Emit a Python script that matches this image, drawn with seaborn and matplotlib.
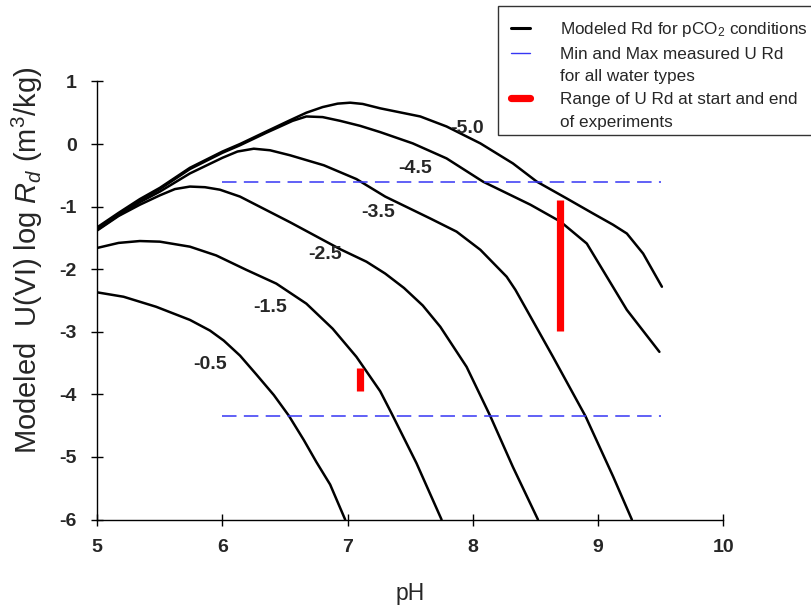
import numpy as np
import pandas as pd
import matplotlib
matplotlib.use("Agg")
import matplotlib.pyplot as plt
import seaborn as sns
from matplotlib.lines import Line2D
from matplotlib.legend_handler import HandlerLine2D
from matplotlib import font_manager as fm

# ---------------- data ----------------
pco2_levels = ["-5.0", "-4.5", "-3.5", "-2.5", "-1.5", "-0.5"]

ph_m50 = [5.0, 5.17, 5.34, 5.5, 5.74, 6.0, 6.14, 6.35, 6.54, 6.67, 6.8, 6.92, 7.02, 7.12, 7.26, 7.58, 7.79,
          8.06, 8.32, 8.51, 8.75, 8.96, 9.12, 9.23, 9.36, 9.51]
rd_m50 = [-1.33, -1.10, -0.88, -0.70, -0.38, -0.12, 0.0, 0.20, 0.38, 0.50, 0.59, 0.645, 0.66, 0.64, 0.57, 0.44, 0.28,
          0.01, -0.31, -0.60, -0.87, -1.11, -1.29, -1.43, -1.75, -2.28]

ph_m45 = [5.0, 5.17, 5.34, 5.5, 5.74, 6.0, 6.14, 6.35, 6.45, 6.56, 6.67, 6.8, 6.94, 7.1, 7.26, 7.52, 7.79,
          8.08, 8.46, 8.70, 8.91, 9.07, 9.23, 9.49]
rd_m45 = [-1.35, -1.12, -0.90, -0.72, -0.40, -0.14, -0.02, 0.18, 0.27, 0.37, 0.44, 0.43, 0.37, 0.29, 0.19, 0.01, -0.23,
          -0.60, -0.97, -1.24, -1.59, -2.12, -2.65, -3.32]

ph_m35 = [5.0, 5.17, 5.34, 5.5, 5.74, 6.0, 6.12, 6.25, 6.38, 6.54, 6.81, 7.07, 7.3, 7.66, 7.87, 8.06, 8.27, 8.34,
          8.43, 8.64, 8.90, 9.12, 9.27]
rd_m35 = [-1.37, -1.14, -0.93, -0.76, -0.47, -0.22, -0.12, -0.075, -0.10, -0.18, -0.34, -0.56, -0.84, -1.19, -1.40, -1.69, -2.12, -2.33,
          -2.65, -3.40, -4.35, -5.31, -6.0]

ph_m25 = [5.0, 5.17, 5.34, 5.5, 5.62, 5.74, 5.86, 5.98, 6.14, 6.54, 6.94, 7.15, 7.3, 7.45, 7.6, 7.74, 7.95, 8.14,
          8.32, 8.52]
rd_m25 = [-1.38, -1.15, -0.97, -0.82, -0.72, -0.68, -0.69, -0.73, -0.84, -1.25, -1.68, -1.88, -2.07, -2.30, -2.58, -2.92, -3.56, -4.35,
          -5.16, -6.0]

ph_m15 = [5.0, 5.17, 5.34, 5.5, 5.74, 5.95, 6.19, 6.43, 6.67, 6.88, 7.07, 7.26, 7.35, 7.55, 7.75]
rd_m15 = [-1.66, -1.58, -1.55, -1.56, -1.64, -1.78, -2.01, -2.23, -2.55, -2.95, -3.40, -3.95, -4.30, -5.10, -6.0]

ph_m05 = [5.0, 5.21, 5.47, 5.74, 5.9, 6.01, 6.14, 6.27, 6.41, 6.53, 6.65, 6.75, 6.86, 6.98]
rd_m05 = [-2.37, -2.44, -2.60, -2.81, -2.98, -3.14, -3.38, -3.68, -4.01, -4.34, -4.73, -5.08, -5.44, -6.0]

# measured min / max U Rd (blue dashed)
meas_ph = [6.0, 9.5]
meas_max = [-0.60, -0.60]
meas_min = [-4.34, -4.34]

# range of U Rd at start and end of experiments (red bars)
exp_ph = [8.70, 7.10]
exp_top = [-0.90, -3.58]
exp_bot = [-2.98, -3.95]

# curve labels
label_ph = [7.95, 7.54, 7.24, 6.82, 6.38, 5.90]
label_rd = [0.25, -0.39, -1.10, -1.77, -2.61, -3.52]

# ---------------- build frame ----------------
curves = [(ph_m50, rd_m50), (ph_m45, rd_m45), (ph_m35, rd_m35),
          (ph_m25, rd_m25), (ph_m15, rd_m15), (ph_m05, rd_m05)]
rows = []
for lev, (xs, ys) in zip(pco2_levels, curves):
    for x, y in zip(xs, ys):
        rows.append({"pH": x, "logRd": y, "pCO2": lev})
df = pd.DataFrame(rows)

# ---------------- style ----------------
sns.set_theme(style="ticks")
plt.rcParams["font.family"] = ["Liberation Sans", "DejaVu Sans"]
plt.rcParams["axes.unicode_minus"] = False
plt.rcParams["mathtext.fontset"] = "custom"
plt.rcParams["mathtext.rm"] = "Liberation Sans"
plt.rcParams["mathtext.it"] = "Liberation Sans:italic"
plt.rcParams["mathtext.bf"] = "Liberation Sans:bold"

bold_family = "Liberation Sans"
try:
    p = fm.findfont(fm.FontProperties(family="Liberation Sans", weight="bold"), fallback_to_default=False)
    if "bold" not in p.lower():
        bold_family = "DejaVu Sans"
except Exception:
    bold_family = "DejaVu Sans"

def bold_fp(size):
    return fm.FontProperties(family=[bold_family, "DejaVu Sans"], weight="bold", size=size)

fig = plt.figure(figsize=(8.12, 6.08), dpi=100)
ax = fig.add_axes([0.1198, 0.1454, 0.7709, 0.7207])

sns.lineplot(data=df, x="pH", y="logRd", hue="pCO2", palette=["black"] * 6,
             sort=False, estimator=None, legend=False, linewidth=1.8, ax=ax)
for ln in ax.lines:
    ln.set_solid_joinstyle("round")

blue = "#3636f4"
for yy in (meas_max, meas_min):
    sns.lineplot(x=meas_ph, y=yy, color=blue, linewidth=1.1, ax=ax)
    ax.lines[-1].set_dashes((9.5, 4.8))

ax.vlines(exp_ph, exp_bot, exp_top, color="#ff0000", linewidth=5.2)

for lab, x, y in zip(pco2_levels, label_ph, label_rd):
    ax.text(x, y, lab, ha="center", va="center", fontproperties=bold_fp(14))

xticks = [5, 6, 7, 8, 9, 10]
yticks = [-6, -5, -4, -3, -2, -1, 0, 1]
ax.set_xlim(5, 10)
ax.set_ylim(-6, 1)
ax.set_xticks(xticks)
ax.set_yticks(yticks)
ax.set_xticklabels([str(v) for v in xticks], fontproperties=bold_fp(14))
ax.set_yticklabels([str(v) for v in yticks], fontproperties=bold_fp(14))
ax.tick_params(direction="inout", length=8.6, width=1.0, color="black")
ax.tick_params(axis="x", pad=9.5)
ax.tick_params(axis="y", pad=10.5)
sns.despine(ax=ax)
for s in ("left", "bottom"):
    ax.spines[s].set_linewidth(1.0)
    ax.spines[s].set_color("black")

ax.set_xlabel("pH", fontsize=16.5)
ax.set_ylabel(r"Modeled  U(VI) log $R_d$ (m$^3$/kg)", fontsize=21)
ax.xaxis.set_label_coords(0.50, -0.142)
ax.yaxis.set_label_coords(-0.083, 0.592)

handles = [
    Line2D([], [], color="black", linewidth=2.2),
    Line2D([], [], color=blue, linewidth=1.0),
    Line2D([], [], color="none"),
    Line2D([], [], color="#ff0000", linewidth=5.2),
    Line2D([], [], color="none"),
]
labels = [
    r"Modeled Rd for pCO$_2$ conditions",
    "Min and Max measured U Rd",
    "for all water types",
    "Range of U Rd at start and end",
    "of experiments",
]
leg = fig.legend(handles, labels, loc="upper left", bbox_to_anchor=(0.613, 0.9906),
                 borderaxespad=0, fontsize=12.3, frameon=True, fancybox=False,
                 edgecolor="black", handlelength=1.58, handletextpad=1.75,
                 labelspacing=0.46, borderpad=0.3,
                 title=" ", title_fontsize=0.5,
                 handler_map={Line2D: HandlerLine2D(xpad=0.47)})
leg.get_frame().set_linewidth(1.0)

fig.savefig("out.png", dpi=100)
